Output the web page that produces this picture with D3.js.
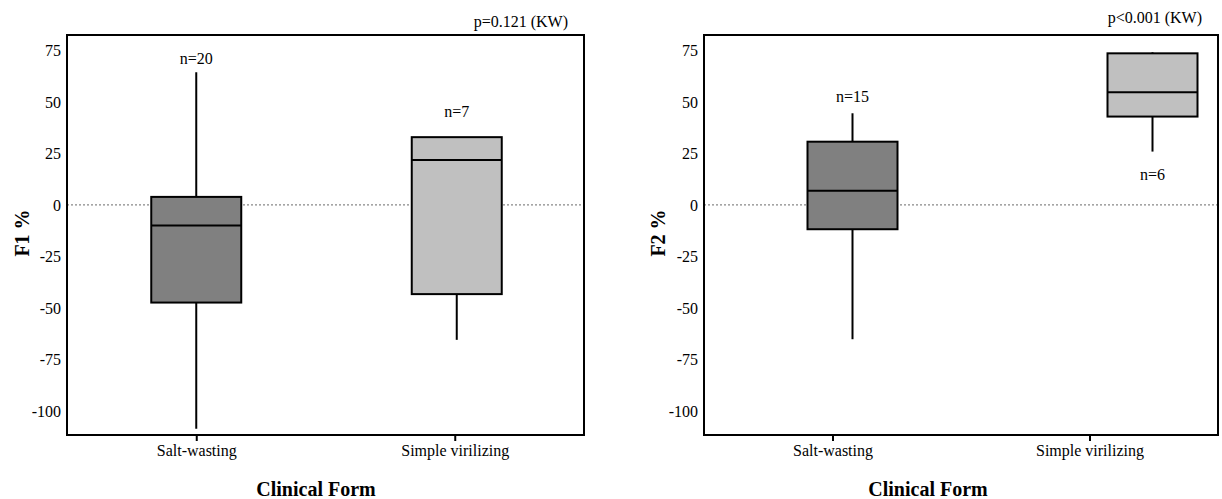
<!DOCTYPE html>
<html>
<head>
<meta charset="utf-8">
<script src="https://cdn.jsdelivr.net/npm/d3@7"></script>
<style>
  body { margin: 0; background: #fff; }
  svg text { font-family: "Liberation Serif", "Times New Roman", Times, "DejaVu Serif", serif; fill: #000; }
</style>
</head>
<body>
<div id="chart"></div>
<script>
// categories and tick values
var forms = ["Salt-wasting", "Simple virilizing"];
var yTicks = [75, 50, 25, 0, -25, -50, -75, -100];

// F1 % box statistics
var f1Min = [-108.7, -65.5];
var f1Q1 = [-47.4, -43.3];
var f1Median = [-10, 21.8];
var f1Q3 = [3.9, 32.9];
var f1Max = [64.4, 32.9];
var f1Counts = [20, 7];

// F2 % box statistics
var f2Min = [-65.2, 25.9];
var f2Q1 = [-11.8, 42.9];
var f2Median = [6.9, 54.7];
var f2Q3 = [30.7, 73.6];
var f2Max = [44.5, 74.1];
var f2Counts = [15, 6];

var pValues = ["p=0.121 (KW)", "p<0.001 (KW)"];
var yTitles = ["F1 %", "F2 %"];

var svgWidth = 1222;
var svgHeight = 499;
var serif = '"Liberation Serif", "Times New Roman", Times, "DejaVu Serif", serif';

var svg = d3.select("#chart")
  .append("svg")
  .attr("width", svgWidth)
  .attr("height", svgHeight)
  .attr("font-family", serif);

var fills = ["#808080", "#c0c0c0"];

// layout of the two panels
var panels = [
  {
    left: 67, right: 584, top: 35, bottom: 435,
    min: f1Min, q1: f1Q1, med: f1Median, q3: f1Q3, max: f1Max, n: f1Counts,
    p: pValues[0], pY: 27, title: yTitles[0], titleX: 22,
    xTitle: 316, boxShift: [0, 2], nAt: [68.4, 42.5]
  },
  {
    left: 704, right: 1218, top: 35, bottom: 435,
    min: f2Min, q1: f2Q1, med: f2Median, q3: f2Q3, max: f2Max, n: f2Counts,
    p: pValues[1], pY: 23, title: yTitles[1], titleX: 658,
    xTitle: 928, boxShift: [20, 63], nAt: [50, 11.9]
  }
];

var boxWidth = 90;

panels.forEach(function(pn) {
  var g = svg.append("g");

  var x = d3.scalePoint()
    .domain(forms)
    .range([pn.left, pn.right])
    .padding(0.5);

  var y = d3.scaleLinear()
    .domain([-111.7, 82.5])
    .range([pn.bottom, pn.top]);

  // zero reference line
  g.append("line")
    .attr("x1", pn.left)
    .attr("x2", pn.right)
    .attr("y1", y(0))
    .attr("y2", y(0))
    .attr("stroke", "#888")
    .attr("stroke-width", 1.2)
    .attr("stroke-dasharray", "2,2");

  // y axis labels only
  var yAxis = d3.axisLeft(y)
    .tickValues(yTicks)
    .tickFormat(d => String(d))
    .tickSize(0)
    .tickPadding(6);
  var ya = g.append("g")
    .attr("transform", `translate(${pn.left},0)`)
    .call(yAxis);
  ya.attr("font-family", serif).attr("font-size", 16);
  ya.select(".domain").remove();

  // x axis with ticks
  var xAxis = d3.axisBottom(x).tickSize(6).tickPadding(4);
  var xa = g.append("g")
    .attr("transform", `translate(0,${pn.bottom})`)
    .call(xAxis);
  xa.attr("font-family", serif).attr("font-size", 16);
  xa.select(".domain").remove();
  xa.selectAll("line").attr("stroke", "#000").attr("stroke-width", 2);

  // boxes
  var boxes = g.selectAll(".box")
    .data(forms)
    .enter()
    .append("g")
    .attr("class", "box");

  function cx(d, i) { return x(d) + pn.boxShift[i]; }

  boxes.append("line")
    .attr("x1", cx).attr("x2", cx)
    .attr("y1", (d, i) => y(pn.max[i]))
    .attr("y2", (d, i) => y(pn.min[i]))
    .attr("stroke", "#000")
    .attr("stroke-width", 2);

  boxes.append("rect")
    .attr("x", (d, i) => cx(d, i) - boxWidth / 2)
    .attr("width", boxWidth)
    .attr("y", (d, i) => y(pn.q3[i]))
    .attr("height", (d, i) => y(pn.q1[i]) - y(pn.q3[i]))
    .attr("fill", (d, i) => fills[i])
    .attr("stroke", "#000")
    .attr("stroke-width", 2);

  boxes.append("line")
    .attr("x1", (d, i) => cx(d, i) - boxWidth / 2)
    .attr("x2", (d, i) => cx(d, i) + boxWidth / 2)
    .attr("y1", (d, i) => y(pn.med[i]))
    .attr("y2", (d, i) => y(pn.med[i]))
    .attr("stroke", "#000")
    .attr("stroke-width", 2);

  boxes.append("text")
    .attr("x", cx)
    .attr("y", (d, i) => y(pn.nAt[i]))
    .attr("text-anchor", "middle")
    .attr("font-size", 16)
    .text((d, i) => "n=" + pn.n[i]);

  // frame
  g.append("rect")
    .attr("x", pn.left)
    .attr("y", pn.top)
    .attr("width", pn.right - pn.left)
    .attr("height", pn.bottom - pn.top)
    .attr("fill", "none")
    .attr("stroke", "#000")
    .attr("stroke-width", 2);

  // p-value
  g.append("text")
    .attr("x", pn.right - 16)
    .attr("y", pn.pY)
    .attr("text-anchor", "end")
    .attr("font-size", 16)
    .text(pn.p);

  // axis titles
  g.append("text")
    .attr("transform", `translate(${pn.titleX + 7},233) rotate(-90)`)
    .attr("text-anchor", "middle")
    .attr("font-size", 20)
    .attr("font-weight", "bold")
    .text(pn.title);

  g.append("text")
    .attr("x", pn.xTitle)
    .attr("y", 496)
    .attr("text-anchor", "middle")
    .attr("font-size", 20)
    .attr("font-weight", "bold")
    .text("Clinical Form");
});
</script>
</body>
</html>
